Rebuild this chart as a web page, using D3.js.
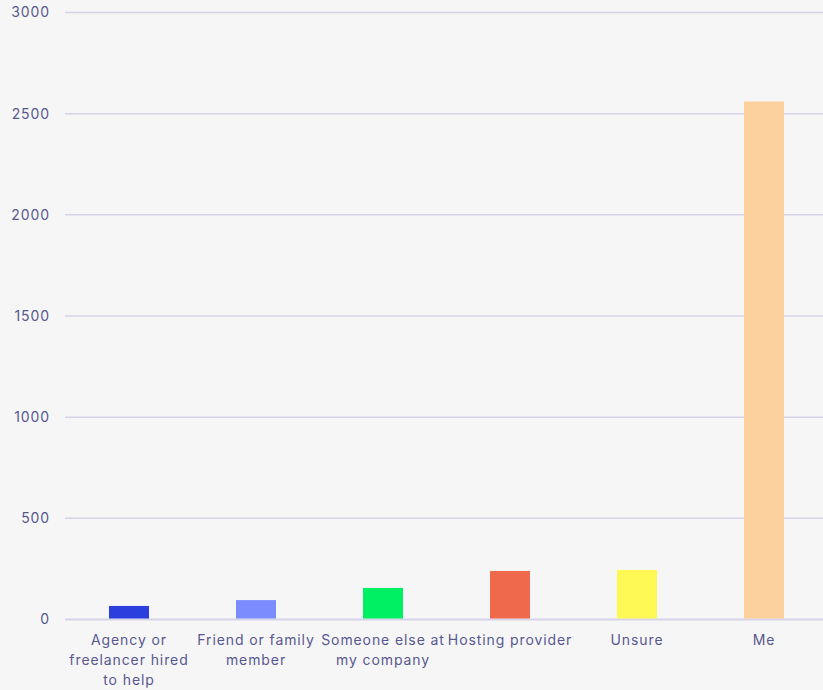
<!DOCTYPE html>
<html>
<head>
<meta charset="utf-8">
<script src="https://cdn.jsdelivr.net/npm/d3@7"></script>
<style>
  html, body { margin: 0; padding: 0; background: #f6f6f6; }
  svg { display: block; }
</style>
</head>
<body>
<svg id="chart" width="823" height="690"></svg>
<script>
const categories = ["Agency or freelancer hired to help", "Friend or family member", "Someone else at my company", "Hosting provider", "Unsure", "Me"];
const values = [67, 96, 156, 240, 245, 2560];
const colors = ["#2a3fde", "#7b8cff", "#00f064", "#ef694c", "#fdf853", "#fdd19e"];
const yTicks = [0, 500, 1000, 1500, 2000, 2500, 3000];

const W = 823, H = 690;
const svg = d3.select("#chart");
svg.append("rect").attr("width", W).attr("height", H).attr("fill", "#f6f6f6");

const x = d3.scaleBand().domain(categories).range([65.5, 827.5])
  .paddingInner(0.685).paddingOuter(0.3425);
const y = d3.scaleLinear().domain([0, 3000]).range([619.5, 12.5]);

const textColor = "#585890";
const font = "Inter, 'Noto Sans', sans-serif";
const spacing = "0.9px";

// y labels
const yAxis = d3.axisLeft(y).tickValues(yTicks).tickFormat(d3.format("d")).tickSize(0).tickPadding(15);
const gy = svg.append("g").attr("transform", "translate(65,0)").call(yAxis);
gy.select(".domain").remove();
gy.selectAll(".tick line").remove();
gy.selectAll(".tick text").attr("fill", textColor).attr("font-family", font)
  .attr("font-size", 14).attr("letter-spacing", spacing);

// gridlines
svg.append("g").selectAll("line").data(yTicks).join("line")
  .attr("x1", 65).attr("x2", W)
  .attr("y1", d => y(d)).attr("y2", d => y(d))
  .attr("stroke", "#d5d3e7")
  .attr("stroke-width", d => d === 0 ? 2 : 1.5);

// bars
svg.append("g").selectAll("rect").data(categories).join("rect")
  .attr("x", d => x(d))
  .attr("width", x.bandwidth())
  .attr("y", (d, i) => y(values[i]))
  .attr("height", (d, i) => y(0) - y(values[i]) - 1)
  .attr("fill", (d, i) => colors[i]);

// x labels
const xAxis = d3.axisBottom(x).tickSize(0).tickPadding(0);
const gx = svg.append("g").attr("transform", "translate(0,625)").call(xAxis);
gx.select(".domain").remove();
gx.selectAll(".tick text")
  .attr("fill", textColor).attr("font-family", font).attr("font-size", 14)
  .attr("letter-spacing", spacing)
  .attr("dy", 0).attr("y", 0)
  .each(function(d) {
    const t = d3.select(this);
    const words = d.split(" ");
    t.text(null);
    const maxW = 130;
    let line = [];
    let lineNo = 0;
    let tspan = t.append("tspan").attr("x", 0).attr("y", 20);
    for (const w of words) {
      line.push(w);
      tspan.text(line.join(" "));
      if (tspan.node().getComputedTextLength() > maxW && line.length > 1) {
        line.pop();
        tspan.text(line.join(" "));
        line = [w];
        lineNo++;
        tspan = t.append("tspan").attr("x", 0).attr("y", 20 + lineNo * 20).text(w);
      }
    }
  });
</script>
</body>
</html>
